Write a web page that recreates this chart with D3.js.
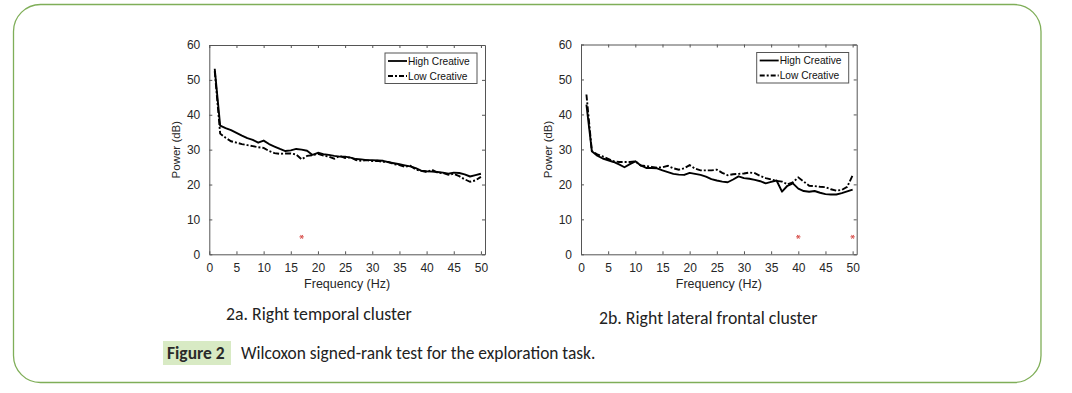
<!DOCTYPE html>
<html><head><meta charset="utf-8">
<script src="https://cdn.jsdelivr.net/npm/d3@7"></script>
<style>
html,body{margin:0;padding:0;background:#fff;}
svg{display:block;}
</style></head>
<body>
<svg id="c" width="1072" height="393"></svg>
<script>
const freq = d3.range(1, 51);
const xTicks = [0,5,10,15,20,25,30,35,40,45,50];
const yTicks = [0,10,20,30,40,50,60];
const seriesNames = ["High Creative", "Low Creative"];

const temporalHigh = [53.2,36.9,36.2,35.6,34.8,34.0,33.3,32.8,32.0,32.6,31.6,30.9,30.2,29.6,29.8,30.2,30.0,29.7,28.5,29.1,28.7,28.5,28.2,28.0,28.0,27.7,27.3,27.2,27.0,27.0,26.9,26.8,26.4,26.1,25.8,25.5,25.2,24.7,24.0,23.8,23.7,23.6,23.4,23.1,23.4,23.3,22.9,22.3,22.7,23.1];
const temporalLow  = [52.5,34.6,33.4,32.4,32.0,31.6,31.3,31.0,30.7,30.5,29.6,29.0,28.8,28.9,28.9,28.6,27.2,28.2,28.4,28.8,28.3,28.0,27.4,28.2,27.6,27.8,27.0,26.8,27.0,26.7,26.8,26.5,26.5,25.8,25.6,25.1,25.4,24.3,23.9,23.6,24.2,23.4,23.3,22.8,23.1,22.4,21.5,20.8,21.2,22.2];
const frontalHigh  = [42.8,29.5,28.2,27.4,26.9,26.4,25.7,24.9,25.8,26.6,25.4,24.7,24.7,24.6,24.0,23.5,23.0,22.8,22.7,23.3,23.0,22.7,22.2,21.5,21.1,20.8,20.6,21.4,22.3,21.8,21.6,21.3,20.9,20.3,20.7,21.1,17.9,19.6,20.3,18.8,18.1,17.9,18.1,17.6,17.2,17.1,17.1,17.5,18.0,18.5];
const frontalLow   = [45.7,29.5,28.6,28.0,27.3,26.6,26.4,26.4,26.4,26.6,25.4,25.2,25.0,24.8,24.9,25.3,24.6,24.2,24.6,25.5,24.5,24.0,24.0,24.0,24.2,23.3,22.6,22.9,23.0,23.1,23.4,23.2,22.4,21.8,21.4,21.0,20.8,20.0,20.6,22.0,20.8,19.6,19.5,19.3,19.2,18.6,18.2,18.4,19.3,22.6];
const temporalSig = [17];
const frontalSig = [40, 50];
const panelCaptions = ["2a. Right temporal cluster", "2b. Right lateral frontal cluster"];
const figureLabel = "Figure 2";
const figureText = "Wilcoxon signed-rank test for the exploration task.";

const svg = d3.select("#c");

// outer frame
svg.append("rect").attr("x",13.5).attr("y",4.5).attr("width",1027.5).attr("height",378)
  .attr("rx",27).attr("ry",27).attr("fill","none").attr("stroke","#7fae58").attr("stroke-width",1.3);

const axisColor = "#555", textColor = "#262626";
const tickFont = "Liberation Sans, Arial, sans-serif";

function drawPanel(cfg){
  const x = d3.scaleLinear().domain([0,50.75]).range([cfg.left, cfg.right]);
  const y = d3.scaleLinear().domain([0,60]).range([cfg.bottom, cfg.top]);
  const g = svg.append("g");

  const xa = g.append("g").attr("transform",`translate(0,${cfg.bottom})`)
    .call(d3.axisBottom(x).tickValues(xTicks).tickSizeInner(-3).tickSizeOuter(0).tickPadding(9));
  const ya = g.append("g").attr("transform",`translate(${cfg.left},0)`)
    .call(d3.axisLeft(y).tickValues(yTicks).tickSizeInner(-3).tickSizeOuter(0).tickPadding(9));
  const xt = g.append("g").attr("transform",`translate(0,${cfg.top})`)
    .call(d3.axisTop(x).tickValues(xTicks).tickSizeInner(-3).tickSizeOuter(0).tickFormat(""));
  const yr = g.append("g").attr("transform",`translate(${cfg.right},0)`)
    .call(d3.axisRight(y).tickValues(yTicks).tickSizeInner(-3).tickSizeOuter(0).tickFormat(""));
  [xa,ya,xt,yr].forEach(a=>{
    a.selectAll("path").attr("stroke",axisColor).attr("stroke-width",1);
    a.selectAll("line").attr("stroke",axisColor).attr("stroke-width",1);
    a.selectAll("text").attr("fill",textColor).attr("font-family",tickFont).attr("font-size",12);
  });

  g.append("text").attr("x",(cfg.left+cfg.right)/2).attr("y",cfg.bottom+34)
    .attr("text-anchor","middle").attr("font-family",tickFont).attr("font-size",12.5)
    .attr("fill",textColor).text("Frequency (Hz)");
  g.append("text").attr("transform",`translate(${cfg.left-29},${(cfg.top+cfg.bottom)/2}) rotate(-90)`)
    .attr("text-anchor","middle").attr("font-family",tickFont).attr("font-size",11.5)
    .attr("fill",textColor).text("Power (dB)");

  const line = d3.line().x((d,i)=>x(freq[i])).y(d=>y(d));
  g.append("path").datum(cfg.high).attr("d",line).attr("fill","none")
    .attr("stroke","#000").attr("stroke-width",1.9).attr("stroke-linejoin","round");
  g.append("path").datum(cfg.low).attr("d",line).attr("fill","none")
    .attr("stroke","#000").attr("stroke-width",1.9).attr("stroke-dasharray","6,2,2,2");

  cfg.sig.forEach(f=>{
    const cx = x(f), cy = y(5), r = 2.2;
    const sg = g.append("g").attr("stroke","#d9534f").attr("stroke-width",1);
    [0,60,120].forEach(a=>{
      const t = a*Math.PI/180;
      sg.append("line").attr("x1",cx-r*Math.cos(t)).attr("y1",cy-r*Math.sin(t))
        .attr("x2",cx+r*Math.cos(t)).attr("y2",cy+r*Math.sin(t));
    });
  });

  const lx = cfg.right-100, ly = cfg.top+8;
  g.append("rect").attr("x",lx).attr("y",ly).attr("width",92).attr("height",30.5)
    .attr("fill","#fff").attr("stroke",axisColor).attr("stroke-width",1);
  seriesNames.forEach((n,i)=>{
    const yy = ly+8+i*15;
    g.append("line").attr("x1",lx+3).attr("x2",lx+22).attr("y1",yy).attr("y2",yy)
      .attr("stroke","#000").attr("stroke-width",1.8)
      .attr("stroke-dasharray", i===1 ? "5,2,2,2" : null);
    g.append("text").attr("x",lx+23).attr("y",yy+3.6).attr("font-family",tickFont)
      .attr("font-size",10.2).attr("fill","#111").text(n);
  });
}

drawPanel({left:209.3,right:485,top:45,bottom:254.3,high:temporalHigh,low:temporalLow,sig:temporalSig});
drawPanel({left:581,right:856.7,top:44.5,bottom:254.3,high:frontalHigh,low:frontalLow,sig:frontalSig});

const capFont = "Carlito, Lato, 'Open Sans', sans-serif";
svg.append("text").attr("x",226).attr("y",320).attr("font-family",capFont).attr("font-size",17.8)
  .attr("fill","#222").text(panelCaptions[0]);
svg.append("text").attr("x",599).attr("y",324).attr("font-family",capFont).attr("font-size",17.8)
  .attr("fill","#222").text(panelCaptions[1]);

svg.append("rect").attr("x",163).attr("y",341).attr("width",68).attr("height",24).attr("fill","#d8eac4");
svg.append("text").attr("x",167).attr("y",358.5).attr("font-family",capFont).attr("font-size",17.5)
  .attr("font-weight","bold").attr("fill","#2a2a2a").text(figureLabel);
svg.append("text").attr("x",241).attr("y",358.5).attr("font-family",capFont).attr("font-size",17.4)
  .attr("fill","#222").text(figureText);
</script>
</body></html>
